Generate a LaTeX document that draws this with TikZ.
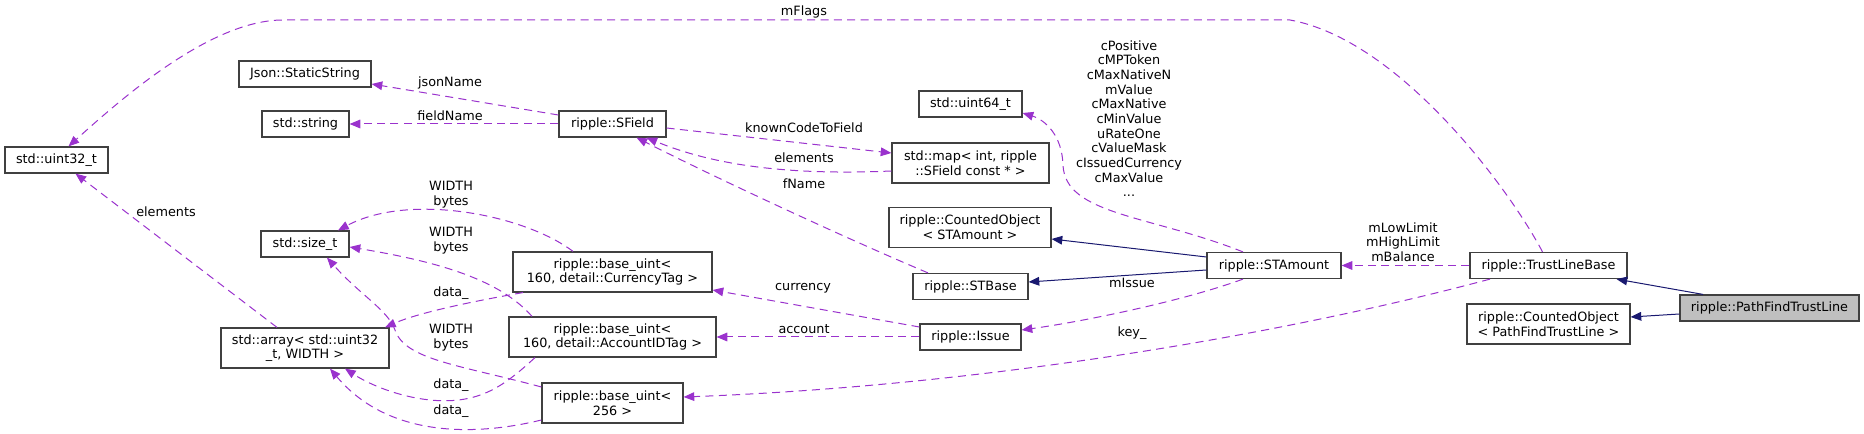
\documentclass[tikz,border=0pt]{standalone}
\usepackage{fontspec}
\setmainfont{DejaVu Sans}
\usetikzlibrary{arrows.meta,calc}
\definecolor{edgepurple}{HTML}{9A32CD}
\definecolor{inhnavy}{HTML}{191970}
\definecolor{boxgray}{HTML}{404040}
\definecolor{fillgray}{HTML}{BFBFBF}
\tikzset{
  cls/.style={draw=boxgray, line width=0.9pt, fill=white, inner sep=0pt, align=center,
    font=\fontsize{9.6}{11}\selectfont},
  bw/.style={minimum width=#1*0.75pt},
  bh/.style={minimum height=#1*0.75pt},
  lbl/.style={inner sep=0pt, align=center, font=\fontsize{9.6}{11}\selectfont},
  dep/.style={draw=edgepurple, line width=0.75pt, dash pattern=on 6pt off 4pt,
    -{Triangle[length=8pt,width=6.5pt]}},
  inh/.style={draw=inhnavy, line width=0.75pt, -{Triangle[length=8pt,width=6.5pt]}}
}
\begin{document}
\begin{tikzpicture}[x=0.75pt,y=-0.75pt]
\useasboundingbox (0,0) rectangle (1864,434);

% nodes
\node[cls,bw=103,bh=26] (u32) at (56.5,160) {std::uint32\_t};
\node[cls,bw=132,bh=26] (json) at (305,74) {Json::StaticString};
\node[cls,bw=87,bh=26] (str) at (305.5,124) {std::string};
\node[cls,bw=88,bh=26] (sz) at (305,244) {std::size\_t};
\node[cls,bw=168,bh=40] (arr) at (305,348) {std::array< std::uint32\\\_t, WIDTH >};
\node[cls,bw=107,bh=26] (sf) at (612.5,124) {ripple::SField};
\node[cls,bw=199,bh=40] (ct) at (612.5,272) {ripple::base\_uint<\\ 160, detail::CurrencyTag >};
\node[cls,bw=207,bh=40] (aid) at (612.5,337) {ripple::base\_uint<\\ 160, detail::AccountIDTag >};
\node[cls,bw=141,bh=40] (b256) at (612.5,403) {ripple::base\_uint<\\256 >};
\node[cls,bw=103,bh=26] (u64) at (970.5,104) {std::uint64\_t};
\node[cls,bw=157,bh=40] (map) at (970.5,163) {std::map< int, ripple\\::SField const * >};
\node[cls,bw=162,bh=40] (co1) at (970,227.5) {ripple::CountedObject\\< STAmount >};
\node[cls,bw=115,bh=26] (stb) at (970.5,286.5) {ripple::STBase};
\node[cls,bw=101,bh=26] (iss) at (970.5,337) {ripple::Issue};
\node[cls,bw=134,bh=26] (stam) at (1274,265.5) {ripple::STAmount};
\node[cls,bw=157,bh=26] (tlb) at (1548.5,265.5) {ripple::TrustLineBase};
\node[cls,bw=163,bh=40] (co2) at (1548.5,324) {ripple::CountedObject\\< PathFindTrustLine >};
\node[cls,bw=179,bh=26,fill=fillgray] (pftl) at (1769.5,308) {ripple::PathFindTrustLine};

% inheritance
\draw[inh] ($(pftl.north)+(-66.5,0)$) -- ($(tlb.south)+(68,0)$);
\draw[inh] ($(pftl.west)+(0,6)$) -- ($(co2.east)+(0,-7)$);
\draw[inh] ($(stam.west)+(0,-8.5)$) -- ($(co1.east)+(0,11.5)$);
\draw[inh] ($(stam.west)+(0,4.5)$) -- ($(stb.east)+(0,-4.5)$);

% usage
\draw[dep] ($(tlb.north)+(-6,0)$) .. controls (1510,190) and (1400,40) .. (1290,20)
  -- (283,20) .. controls (210,20) and (120,100) .. ($(u32.north)+(12,0)$);
\draw[dep] (tlb.west) -- (stam.east);
\draw[dep] ($(tlb.south)+(-58.5,0)$) .. controls (1300,330) and (1000,385) .. ($(b256.east)+(0,-6)$);
\draw[dep] ($(stam.north)+(-31,0)$) .. controls (1150,215) and (1065,215) .. (1063,165)
  .. controls (1062,135) and (1045,120) .. ($(u64.east)+(0,9)$);
\draw[dep] ($(stam.south)+(-31,0)$) .. controls (1180,302) and (1080,322) .. ($(iss.east)+(0,-7)$);
\draw[dep] ($(iss.west)+(0,-10)$) -- ($(ct.east)+(0,18)$);
\draw[dep] (iss.west) -- (aid.east);
\draw[dep] ($(stb.north)+(-42.5,0)$) .. controls (850,240) and (720,180) .. ($(sf.south)+(24,0)$);
\draw[dep] ($(map.west)+(0,8)$) .. controls (800,175) and (720,168) .. ($(sf.south)+(34,0)$);
\draw[dep] ($(sf.east)+(0,4)$) -- ($(map.west)+(0,-10)$);
\draw[dep] ($(sf.west)+(0,-9)$) -- ($(json.east)+(0,10)$);
\draw[dep] (sf.west) -- (str.east);
\draw[dep] ($(ct.north)+(-39.5,0)$) .. controls (525,215) and (410,192) .. ($(sz.north)+(33,0)$);
\draw[dep] ($(aid.north)+(-80.5,0)$) .. controls (500,280) and (440,262) .. ($(sz.east)+(0,3)$);
\draw[dep] ($(b256.west)+(0,-16)$) .. controls (460,365) and (405,360) .. (395,330)
  .. controls (388,310) and (360,295) .. ($(sz.south)+(22,0)$);
\draw[dep] ($(ct.south)+(-89.5,0)$) .. controls (480,300) and (420,312) .. ($(arr.north)+(80,0)$);
\draw[dep] ($(aid.south)+(-77.5,0)$) .. controls (505,385) and (480,405) .. (430,400)
  .. controls (400,397) and (370,385) .. ($(arr.south)+(40,0)$);
\draw[dep] ($(b256.west)+(0,17)$) .. controls (480,435) and (390,440) .. ($(arr.south)+(25,0)$);
\draw[dep] ($(arr.north)+(-28,0)$) -- ($(u32.south)+(19,0)$);

% labels
\node[lbl] (l1) at (804,12) {mFlags};
\node[lbl] (l2) at (450,83) {jsonName};
\node[lbl] (l3) at (450,116) {fieldName};
\node[lbl] (l4) at (804,128) {knownCodeToField};
\node[lbl] (l5) at (804,158) {elements};
\node[lbl] (l6) at (804,184) {fName};
\node[lbl] (l7) at (1129,118.5) {cPositive\\cMPToken\\cMaxNativeN\\mValue\\cMaxNative\\cMinValue\\uRateOne\\cValueMask\\cIssuedCurrency\\cMaxValue\\...};
\node[lbl] (l8) at (1403,242) {mLowLimit\\mHighLimit\\mBalance};
\node[lbl] (l9) at (1132,283) {mIssue};
\node[lbl] (l10) at (1132,333) {key\_};
\node[lbl] (l11) at (803,288) {currency};
\node[lbl] (l12) at (804,329) {account};
\node[lbl] (l13) at (166,212) {elements};
\node[lbl] (l14) at (451,195) {WIDTH\\bytes};
\node[lbl] (l15) at (451,241) {WIDTH\\bytes};
\node[lbl] (l16) at (451,293) {data\_};
\node[lbl] (l17) at (451,337.5) {WIDTH\\bytes};
\node[lbl] (l18) at (451,385) {data\_};
\node[lbl] (l19) at (451,411) {data\_};
\end{tikzpicture}
\end{document}
